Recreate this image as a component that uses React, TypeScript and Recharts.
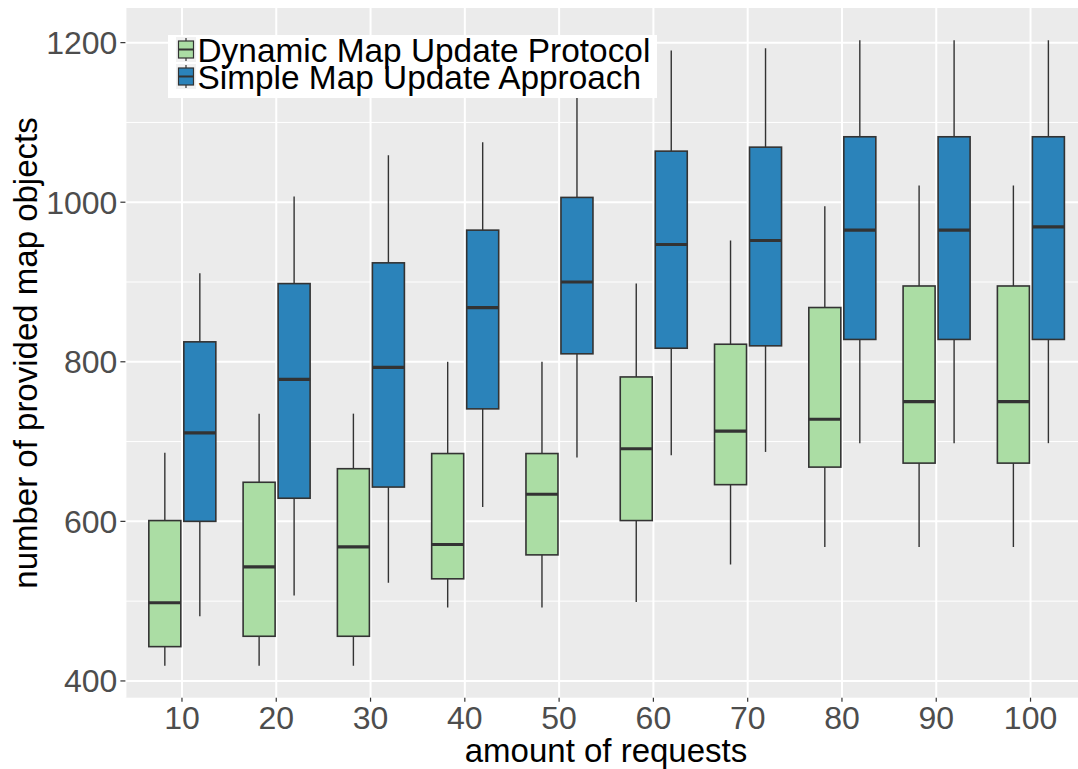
import React from "react";
import { BarChart, Bar, XAxis, YAxis, CartesianGrid, Legend } from "recharts";

const FONT = "'Liberation Sans', Arial, Helvetica, sans-serif";

const categories = ["10", "20", "30", "40", "50", "60", "70", "80", "90", "100"];

// Dynamic Map Update Protocol
const dynMin = [419, 419, 419, 492, 492, 499, 546, 568, 568, 568];
const dynQ1 = [443, 456, 456, 528, 558, 601, 646, 668, 673, 673];
const dynMed = [498, 543, 568, 571, 634, 691, 713, 728, 750, 750];
const dynQ3 = [601, 649, 666, 685, 685, 781, 822, 868, 895, 895];
const dynMax = [686, 735, 735, 800, 800, 898, 952, 995, 1021, 1021];

// Simple Map Update Approach
const simMin = [481, 507, 523, 618, 680, 683, 687, 698, 698, 698];
const simQ1 = [600, 629, 643, 741, 810, 817, 820, 828, 828, 828];
const simMed = [711, 778, 793, 868, 900, 947, 952, 965, 965, 969];
const simQ3 = [825, 898, 924, 965, 1006, 1064, 1069, 1082, 1082, 1082];
const simMax = [911, 1007, 1059, 1075, 1160, 1190, 1193, 1203, 1203, 1203];

const yTicks = [400, 600, 800, 1000, 1200];
const yMinor = [500, 700, 900, 1100];

const GREEN = "#ABDDA4";
const BLUE = "#2B83BA";
const LINE = "#333333";

const data = categories.map((cat, i) => ({
  cat,
  dyn: [dynMin[i], dynMax[i]],
  dynQ1: dynQ1[i],
  dynMed: dynMed[i],
  dynQ3: dynQ3[i],
  sim: [simMin[i], simMax[i]],
  simQ1: simQ1[i],
  simMed: simMed[i],
  simQ3: simQ3[i],
}));

// box drawn inside the bar's [min, max] extent, positioned through the y scale
const makeBox = (key: string, fill: string) => (props: any) => {
  const { x, y, width, height, payload } = props;
  if (x == null || y == null) return null;
  const [lo, hi] = payload[key];
  const top = Math.min(y, y + height);
  const bottom = Math.max(y, y + height);
  const py = (v: number) => bottom - ((v - lo) / (hi - lo)) * (bottom - top);
  const cx = x + width / 2;
  const q1 = py(payload[key + "Q1"]);
  const q3 = py(payload[key + "Q3"]);
  const med = py(payload[key + "Med"]);
  return (
    <g>
      <line x1={cx} x2={cx} y1={top} y2={q3} stroke={LINE} strokeWidth={1.4} />
      <line x1={cx} x2={cx} y1={q1} y2={bottom} stroke={LINE} strokeWidth={1.4} />
      <rect x={x} y={q3} width={width} height={q1 - q3} fill={fill} stroke={LINE} strokeWidth={1.6} />
      <line x1={x} x2={x + width} y1={med} y2={med} stroke={LINE} strokeWidth={3.2} />
    </g>
  );
};

const legendItems = [
  { label: "Dynamic Map Update Protocol", color: GREEN },
  { label: "Simple Map Update Approach", color: BLUE },
];

// legend svg sits 7px above the white box so the tall glyphs are not clipped
const renderLegend = () => (
  <svg width={489} height={72} style={{ display: "block", overflow: "visible" }}>
    <rect x={0} y={7} width={489} height={63} fill="#ffffff" />
    {legendItems.map((it, i) => {
      const ky = i === 0 ? 9 : 36;
      return (
        <g key={it.label}>
          <rect x={8} y={ky} width={20} height={25} fill="#F2F2F2" />
          <line x1={18} x2={18} y1={ky + 1} y2={ky + 24} stroke={LINE} strokeWidth={1.2} />
          <rect x={10.5} y={ky + 4} width={15} height={17} fill={it.color} stroke={LINE} strokeWidth={1.2} />
          <line x1={10.5} x2={25.5} y1={ky + 12.5} y2={ky + 12.5} stroke={LINE} strokeWidth={2} />
          <text x={29.5} y={ky + 25} fontSize={33.4} fontFamily={FONT} fill="#000">
            {it.label}
          </text>
        </g>
      );
    })}
  </svg>
);

const yTitle = () => (
  <text
    transform="translate(37,353) rotate(-90)"
    textAnchor="middle"
    fontSize={33}
    fontFamily={FONT}
    fill="#000"
  >
    number of provided map objects
  </text>
);

const xTitle = () => (
  <text x={606} y={762} textAnchor="middle" fontSize={33} fontFamily={FONT} fill="#000">
    amount of requests
  </text>
);

export default function App() {
  const tick = { fontSize: 32, fill: "#4D4D4D", fontFamily: FONT };
  return (
    <div
      style={{
        position: "absolute",
        left: 0,
        top: 0,
        width: 1078,
        height: 769,
        overflow: "hidden",
        background: "#fff",
      }}
    >
      <BarChart
        width={1088}
        height={769}
        data={data}
        margin={{ top: 8, right: 0.9, bottom: 0, left: 0 }}
        barSize={32}
        barGap={3}
      >
        <CartesianGrid
          fill="#EBEBEB"
          stroke="#FFFFFF"
          strokeWidth={1}
          vertical={false}
          horizontalValues={yMinor}
        />
        <CartesianGrid stroke="#FFFFFF" strokeWidth={2} horizontalValues={yTicks} />
        <XAxis
          dataKey="cat"
          interval={0}
          axisLine={false}
          tickLine={{ stroke: LINE, strokeWidth: 1.2 }}
          tickSize={4}
          tickMargin={5}
          tick={tick}
          height={71.3}
          padding={{ left: 9.43, right: 9.43 }}
          label={{ content: xTitle }}
        />
        <YAxis
          type="number"
          domain={[379, 1243.4]}
          allowDataOverflow
          ticks={yTicks}
          axisLine={false}
          tickLine={{ stroke: LINE, strokeWidth: 1.2 }}
          tickSize={5}
          tickMargin={3}
          tick={tick}
          width={125.4}
          label={{ content: yTitle }}
        />
        <Legend
          layout="vertical"
          align="center"
          verticalAlign="middle"
          content={renderLegend}
          wrapperStyle={{ left: 168, top: 28, width: 489, height: 72 }}
        />
        <Bar dataKey="dyn" fill={GREEN} shape={makeBox("dyn", GREEN)} isAnimationActive={false} />
        <Bar dataKey="sim" fill={BLUE} shape={makeBox("sim", BLUE)} isAnimationActive={false} />
      </BarChart>
    </div>
  );
}
